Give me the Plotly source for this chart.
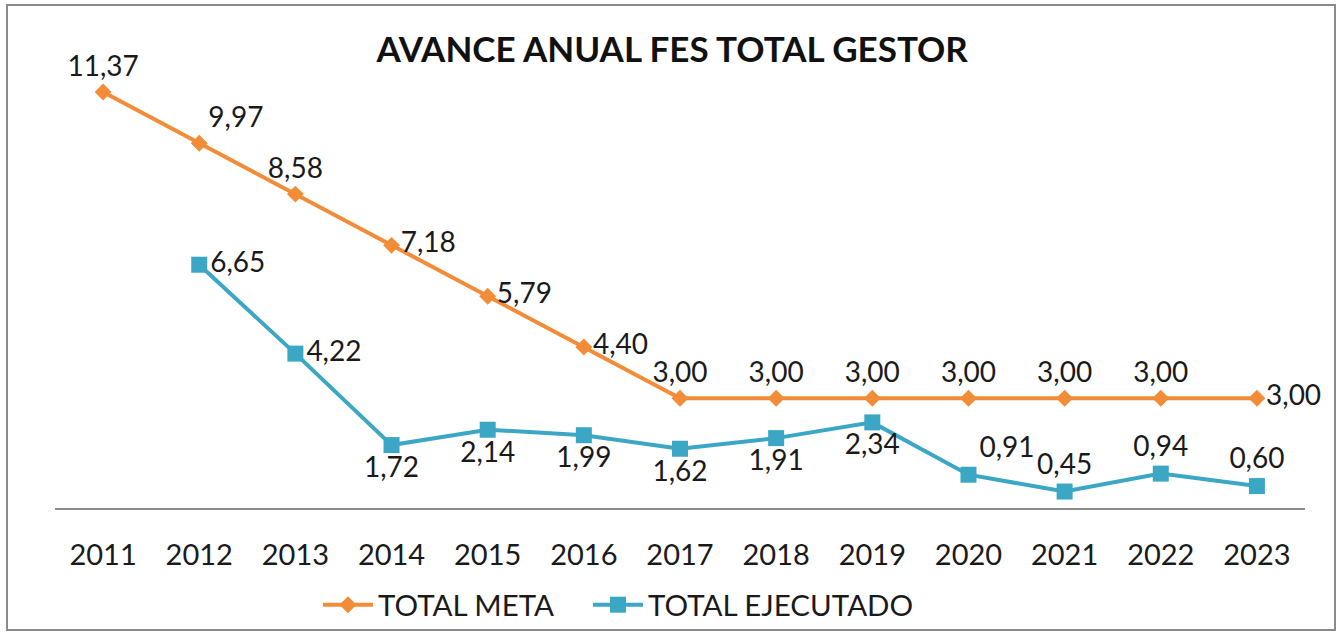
import plotly.graph_objects as go

years = ["2011", "2012", "2013", "2014", "2015", "2016", "2017",
         "2018", "2019", "2020", "2021", "2022", "2023"]
meta = [11.37, 9.97, 8.58, 7.18, 5.79, 4.40, 3.00, 3.00, 3.00, 3.00, 3.00, 3.00, 3.00]
ejec_years = years[1:]
ejecutado = [6.65, 4.22, 1.72, 2.14, 1.99, 1.62, 1.91, 2.34, 0.91, 0.45, 0.94, 0.60]

meta_pos = ["top center", "top right", "top center", "middle right", "middle right",
            "middle right", "top center", "top center", "top center", "top center",
            "top center", "top center", "middle right"]
ejec_pos = ["middle right", "middle right", "bottom center", "bottom center", "bottom center",
            "bottom center", "bottom center", "bottom center", "top right", "top center",
            "top center", "top center"]

def fmt(v):
    return f"{v:.2f}".replace(".", ",")

FONT = "Lato"
ORANGE = "#F28C38"
BLUE = "#3BA7C4"
TXT = "#1a1a1a"

fig = go.Figure()
fig.add_trace(go.Scatter(
    x=years, y=meta, name="TOTAL META", mode="lines+markers+text",
    line=dict(color=ORANGE, width=4),
    marker=dict(symbol="diamond", size=13, color=ORANGE),
    text=[fmt(v) for v in meta], textposition=meta_pos,
    textfont=dict(family=FONT, size=28, color=TXT),
    cliponaxis=False, legend="legend",
))
fig.add_trace(go.Scatter(
    x=ejec_years, y=ejecutado, name="TOTAL EJECUTADO", mode="lines+markers+text",
    line=dict(color=BLUE, width=4),
    marker=dict(symbol="square", size=16, color=BLUE),
    text=[fmt(v) for v in ejecutado], textposition=ejec_pos,
    textfont=dict(family=FONT, size=28, color=TXT),
    cliponaxis=False, legend="legend2",
))

legend_style = dict(orientation="h", xanchor="left", y=-0.221, yanchor="middle",
                    font=dict(family=FONT, size=29.5, color=TXT),
                    itemwidth=50, bgcolor="rgba(0,0,0,0)")

fig.update_layout(
    width=1339, height=632,
    margin=dict(l=55, r=34, t=69, b=124, autoexpand=False),
    paper_bgcolor="white", plot_bgcolor="white",
    title=dict(text="<b>AVANCE ANUAL FES TOTAL GESTOR</b>", x=0.502, xanchor="center",
               y=1 - 50 / 632, yanchor="middle",
               font=dict(family=FONT, size=35, color="#111111")),
    font=dict(family=FONT, color=TXT),
    showlegend=True,
    legend=dict(x=(318 - 55) / 1250, **legend_style),
    legend2=dict(x=(588 - 55) / 1250, **legend_style),
    xaxis=dict(type="category", range=[-0.5, 12.5], showgrid=False, zeroline=False,
               showline=True, linecolor="#8c8c8c", linewidth=2,
               ticks="outside", ticklen=20, tickcolor="rgba(0,0,0,0)",
               tickfont=dict(family=FONT, size=29, color=TXT)),
    yaxis=dict(range=[0, 12], showgrid=False, zeroline=False, showline=False,
               showticklabels=False, ticks=""),
)

fig.add_shape(type="rect", xref="paper", yref="paper",
              x0=-48 / 1250, x1=(1335 - 55) / 1250,
              y0=(508 - 630) / 439, y1=(508 - 5) / 439,
              line=dict(color="#8a8a8a", width=2), fillcolor="rgba(0,0,0,0)", layer="below")

fig.write_html("out.html",
               config={"displayModeBar": False},
               post_script="document.body.style.margin='0';document.body.style.padding='0';"
                           "document.body.style.overflow='hidden';")
